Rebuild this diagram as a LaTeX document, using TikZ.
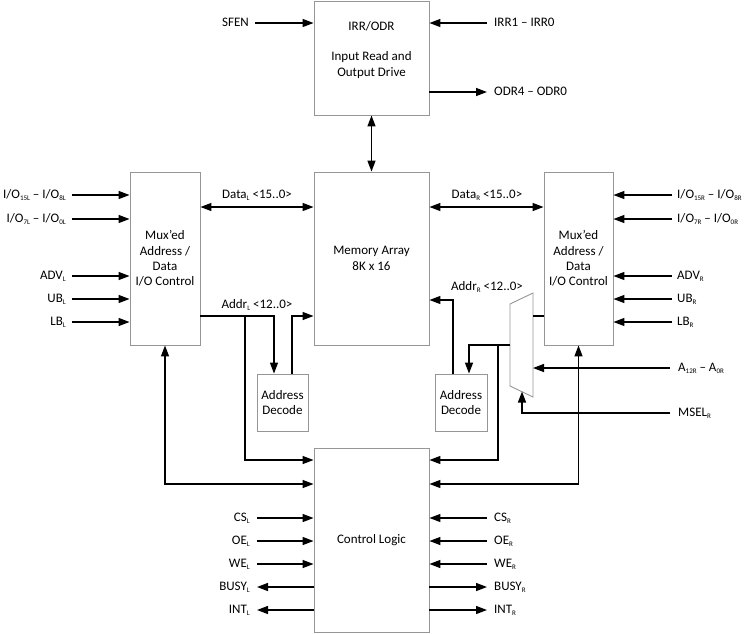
\documentclass[tikz,border=0pt]{standalone}
\usepackage{fontspec}
\setmainfont{Carlito}
\usetikzlibrary{arrows.meta,calc}
\newcommand\ssb[1]{\raisebox{-0.35ex}{\fontsize{7}{7}\selectfont #1}}
\begin{document}
\begin{tikzpicture}[x=1pt,y=-1pt,
  every node/.style={font=\fontsize{13}{15.3}\selectfont},
  box/.style={draw={rgb,255:red,150;green,150;blue,150}, line width=0.9pt, inner sep=0pt, align=center},
  lbl/.style={inner sep=0pt, text height=9pt, text depth=1.5pt},
  wire/.style={line width=1.4pt},
  arr/.style={wire, -{Triangle[length=11pt,width=8pt]}},
  arrb/.style={wire, {Triangle[length=11pt,width=8pt]}-{Triangle[length=11pt,width=8pt]}}]
\useasboundingbox (0,0) rectangle (746,633);
% boxes
\node[box, minimum width=115pt, minimum height=114pt] (irr) at (371.5,58) {};
\node[lbl] (irrT) at (371.5,27) {IRR/ODR};
\node[align=center, inner sep=0pt] (irrD) at (371.5,65) {Input Read and\\Output Drive};
\node[box, minimum width=115pt, minimum height=173pt] (mem) at (371.5,258.5) {Memory Array\\8K x 16};
\node[box, minimum width=70pt, minimum height=173pt] (muxL) at (165,258.5) {Mux’ed\\Address /\\Data\\I/O Control};
\node[box, minimum width=69pt, minimum height=173pt] (muxR) at (578.5,258.5) {Mux’ed\\Address /\\Data\\I/O Control};
\node[box, minimum width=51pt, minimum height=57pt] (adL) at (282.5,402.5) {Address\\Decode};
\node[box, minimum width=52pt, minimum height=57pt] (adR) at (461,402.5) {Address\\Decode};
\node[box, minimum width=115pt, minimum height=184pt] (ctl) at (371.5,540) {Control Logic};
% mux trapezoid
\coordinate (t1) at (510,304);
\coordinate (t2) at (533,293);
\coordinate (t3) at (533,397);
\coordinate (t4) at (510,386);
\draw[draw={rgb,255:red,150;green,150;blue,150}, line width=0.9pt] (t1) -- (t2) -- (t3) -- (t4) -- cycle;
\coordinate (tin) at (533,316);
\coordinate (tout) at (510,345);
\coordinate (tsel) at (522,391.5);
% top block
\node[lbl, anchor=east] (sfen) at (249,23) {SFEN};
\draw[arr] ([xshift=6pt]sfen.east) -- (sfen.east -| irr.west);
\node[lbl, anchor=west] (irri) at (494,23) {IRR1 – IRR0};
\draw[arr] ([xshift=-7pt]irri.west) -- (irri.west -| irr.east);
\node[lbl, anchor=west] (odr) at (494,92) {ODR4 – ODR0};
\draw[arr] (odr.west -| irr.east) -- ([xshift=-7pt]odr.west);
\draw[arrb] (irr.south) -- (mem.north);
% left mux inputs
\foreach \n/\y/\t in {ioaL/195/{I/O\ssb{15L} – I/O\ssb{8L}}, iobL/219/{I/O\ssb{7L} – I/O\ssb{0L}}, advL/276/{ADV\ssb{L}}, ubL/299/{UB\ssb{L}}, lbL/322/{LB\ssb{L}}}{
  \node[lbl, anchor=east] (\n) at (66,\y) {\t};
  \draw[arr] ([xshift=6pt]\n.east) -- (\n.east -| muxL.west);
}
% right mux inputs
\foreach \n/\y/\t in {ioaR/195/{I/O\ssb{15R} – I/O\ssb{8R}}, iobR/219/{I/O\ssb{7R} – I/O\ssb{0R}}, advR/276/{ADV\ssb{R}}, ubR/299/{UB\ssb{R}}, lbR/322/{LB\ssb{R}}}{
  \node[lbl, anchor=west] (\n) at (677,\y) {\t};
  \draw[arr] ([xshift=-5pt]\n.west) -- (\n.west -| muxR.east);
}
% data buses
\node[lbl] (dataL) at (257,195) {Data\ssb{L} <15..0>};
\coordinate (ydata) at (0,207);
\draw[arrb] (muxL.east |- ydata) -- (mem.west |- ydata);
\node[lbl] (dataR) at (487,195) {Data\ssb{R} <15..0>};
\draw[arrb] (mem.east |- ydata) -- (muxR.west |- ydata);
% left address
\node[lbl] (addrL) at (257,305) {Addr\ssb{L} <12..0>};
\coordinate (yaL) at (0,316);
\coordinate (bL) at (245,316);
\draw[arr] (muxL.east |- yaL) -| (adL.north -| 274,0);
\draw[arr] (adL.north -| 292,0) |- (mem.west |- yaL);
\draw[arr] (bL) |- (ctl.west |- 0,460);
\draw[arrb] (muxL.south) |- (ctl.west |- 0,484);
% right address
\node[lbl] (addrR) at (487,287) {Addr\ssb{R} <12..0>};
\draw[arr] (adR.north -| 453,0) |- (mem.east |- 0,300);
\draw[wire] (muxR.west |- tin) -- (tin);
\draw[arr] (tout) -| (adR.north -| 469,0);
\draw[arr] (tout -| 498,0) |- (ctl.east |- 0,460);
\draw[arrb] (muxR.south) |- (ctl.east |- 0,484);
\node[lbl, anchor=west] (aR) at (678,368) {A\ssb{12R} – A\ssb{0R}};
\draw[arr] ([xshift=-8pt]aR.west) -- (aR.west -| tin);
\node[lbl, anchor=west] (msel) at (678,413) {MSEL\ssb{R}};
\draw[arr] ([xshift=-8pt]msel.west) -| (tsel);
% control logic
\foreach \n/\y/\t in {csL/518/{CS\ssb{L}}, oeL/541/{OE\ssb{L}}, weL/564/{WE\ssb{L}}}{
  \node[lbl, anchor=east] (\n) at (250,\y) {\t};
  \draw[arr] ([xshift=7pt]\n.east) -- (\n.east -| ctl.west);
}
\foreach \n/\y/\t in {busyL/587/{BUSY\ssb{L}}, intL/610/{INT\ssb{L}}}{
  \node[lbl, anchor=east] (\n) at (250,\y) {\t};
  \draw[arr] (\n.east -| ctl.west) -- ([xshift=7pt]\n.east);
}
\foreach \n/\y/\t in {csR/518/{CS\ssb{R}}, oeR/541/{OE\ssb{R}}, weR/564/{WE\ssb{R}}}{
  \node[lbl, anchor=west] (\n) at (494,\y) {\t};
  \draw[arr] ([xshift=-7pt]\n.west) -- (\n.west -| ctl.east);
}
\foreach \n/\y/\t in {busyR/587/{BUSY\ssb{R}}, intR/610/{INT\ssb{R}}}{
  \node[lbl, anchor=west] (\n) at (494,\y) {\t};
  \draw[arr] (\n.west -| ctl.east) -- ([xshift=-7pt]\n.west);
}
\end{tikzpicture}
\end{document}
